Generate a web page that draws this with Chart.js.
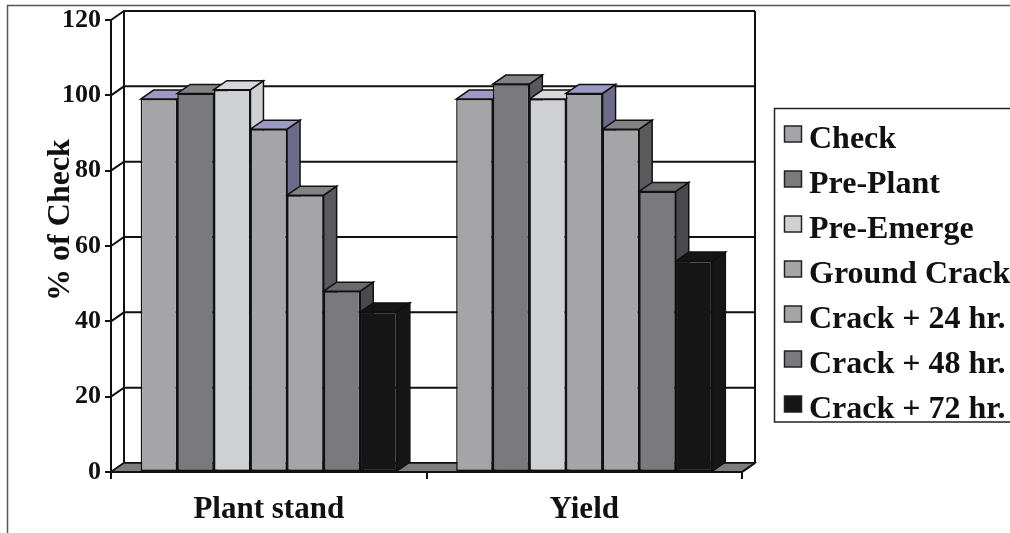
<!DOCTYPE html>
<html>
<head>
<meta charset="utf-8">
<script src="https://cdn.jsdelivr.net/npm/chart.js@4.4.0/dist/chart.umd.min.js"></script>
<style>
  html, body { margin: 0; padding: 0; background: #fff; }
  canvas { display: block; }
</style>
</head>
<body>
<canvas id="chart" width="1010" height="533"></canvas>
<script>
// categories and series values (% of check)
const categories = ['Plant stand', 'Yield'];
const seriesNames = ['Check', 'Pre-Plant', 'Pre-Emerge', 'Ground Crack', 'Crack + 24 hr.', 'Crack + 48 hr.', 'Crack + 72 hr.'];
const checkVals = [99, 99];
const prePlantVals = [100.5, 103];
const preEmergeVals = [101.5, 99];
const groundCrackVals = [91, 100.5];
const crack24Vals = [73.5, 91];
const crack48Vals = [48, 74.5];
const crack72Vals = [42.5, 56];
const yTicks = [0, 20, 40, 60, 80, 100, 120];

const frontColors = ['#a5a5a7', '#7a7a7c', '#cfd0d2', '#a5a5a7', '#a5a5a7', '#7a7a7c', '#161616'];
const topColors   = ['#9a9ac4', '#838385', '#d8d8da', '#9a9ac4', '#838385', '#6a6a6c', '#161616'];
const sideColors  = ['#6b6b8c', '#5a5a5c', '#cfd0d2', '#6b6b8c', '#5b5b5d', '#4a4a4c', '#161616'];

const DX = 13, DY = -9;   // depth of the fake 3d
const serif = "'Liberation Serif', 'DejaVu Serif', serif";

function poly(ctx, pts, fill) {
    ctx.beginPath();
    ctx.moveTo(pts[0][0], pts[0][1]);
    for (let i = 1; i < pts.length; i++) ctx.lineTo(pts[i][0], pts[i][1]);
    ctx.closePath();
    if (fill) { ctx.fillStyle = fill; ctx.fill(); }
    ctx.stroke();
}

const threeD = {
    id: 'threeD',
    beforeDraw(chart) {
        const ctx = chart.ctx;
        ctx.save();
        ctx.strokeStyle = '#555';
        ctx.lineWidth = 1.5;
        ctx.strokeRect(7.5, 5.5, 1100, 600);
        ctx.restore();
    },
    beforeDatasetsDraw(chart) {
        const { ctx, chartArea: a, scales: { y } } = chart;
        ctx.save();
        ctx.strokeStyle = '#111';
        ctx.lineWidth = 2;
        // back wall
        yTicks.forEach(v => {
            const py = y.getPixelForValue(v);
            ctx.beginPath();
            ctx.moveTo(a.left, py);
            ctx.lineTo(a.left + DX, py + DY);
            ctx.lineTo(a.right + DX, py + DY);
            ctx.stroke();
        });
        ctx.beginPath();
        ctx.moveTo(a.left + DX, a.top + DY);
        ctx.lineTo(a.left + DX, a.bottom + DY);
        ctx.moveTo(a.right + DX, a.top + DY);
        ctx.lineTo(a.right + DX, a.bottom + DY);
        ctx.stroke();
        // floor
        ctx.lineWidth = 1.5;
        poly(ctx, [[a.left, a.bottom], [a.right, a.bottom], [a.right + DX, a.bottom + DY], [a.left + DX, a.bottom + DY]], '#7d7d7f');
        // side and top faces, front faces are drawn by Chart.js afterwards
        chart.data.datasets.forEach((ds, i) => {
            chart.getDatasetMeta(i).data.forEach(bar => {
                const l = bar.x - bar.width / 2, r = bar.x + bar.width / 2;
                const t = bar.y, b = bar.base;
                poly(ctx, [[r, t], [r + DX, t + DY], [r + DX, b + DY], [r, b]], sideColors[i]);
                poly(ctx, [[l, t], [l + DX, t + DY], [r + DX, t + DY], [r, t]], topColors[i]);
            });
        });
        ctx.restore();
    },
    afterDatasetsDraw(chart) {
        const { ctx, chartArea: a } = chart;
        ctx.save();
        ctx.strokeStyle = '#111';
        ctx.lineWidth = 2;
        ctx.beginPath();
        ctx.moveTo(a.left, a.bottom);
        ctx.lineTo(a.right, a.bottom);
        ctx.lineTo(a.right + DX, a.bottom + DY);
        ctx.stroke();

        // y title
        ctx.fillStyle = '#111';
        ctx.font = 'bold 32px ' + serif;
        ctx.textAlign = 'center';
        ctx.textBaseline = 'alphabetic';
        ctx.save();
        ctx.translate(69, 220);
        ctx.rotate(-Math.PI / 2);
        ctx.fillText('% of Check', 0, 0);
        ctx.restore();

        // legend
        ctx.strokeStyle = '#222';
        ctx.lineWidth = 1.5;
        ctx.strokeRect(774.5, 108.5, 400, 313.5);
        ctx.textAlign = 'left';
        chart.data.datasets.forEach((ds, i) => {
            const base = 147.5 + i * 45;
            ctx.fillStyle = ds.backgroundColor;
            ctx.fillRect(784.5, base - 21.5, 17, 16);
            ctx.strokeStyle = '#222';
            ctx.strokeRect(784.5, base - 21.5, 17, 16);
            ctx.fillStyle = '#111';
            ctx.fillText(ds.label, 809, base);
        });
        ctx.restore();
    }
};

const seriesVals = [checkVals, prePlantVals, preEmergeVals, groundCrackVals, crack24Vals, crack48Vals, crack72Vals];

new Chart(document.getElementById('chart'), {
    type: 'bar',
    data: {
        labels: categories,
        datasets: seriesNames.map((name, i) => ({
            label: name,
            data: seriesVals[i],
            backgroundColor: frontColors[i],
            borderColor: '#111',
            borderWidth: 1.5,
            borderSkipped: false,
            barPercentage: 1,
            categoryPercentage: 0.812
        }))
    },
    options: {
        responsive: false,
        animation: false,
        layout: { padding: { top: 20, right: 268, bottom: 0, left: 0 } },
        plugins: {
            legend: { display: false },
            tooltip: { enabled: false }
        },
        scales: {
            x: {
                afterFit: s => { s.height = 61; },
                grid: { offset: true, drawOnChartArea: false, tickLength: 7, color: '#111', lineWidth: 2 },
                border: { display: true, color: '#111', width: 2 },
                ticks: { color: '#111', padding: 12, font: { family: serif, size: 31, weight: 'bold' } }
            },
            y: {
                min: 0,
                max: 120,
                afterFit: s => { s.width = 111; },
                afterBuildTicks: s => { s.ticks = yTicks.map(v => ({ value: v })); },
                grid: { drawOnChartArea: false, tickLength: 6, color: '#111', lineWidth: 2 },
                border: { display: true, color: '#111', width: 2 },
                ticks: { color: '#111', padding: 4, font: { family: serif, size: 26, weight: 'bold' } }
            }
        }
    },
    plugins: [threeD]
});
</script>
</body>
</html>
